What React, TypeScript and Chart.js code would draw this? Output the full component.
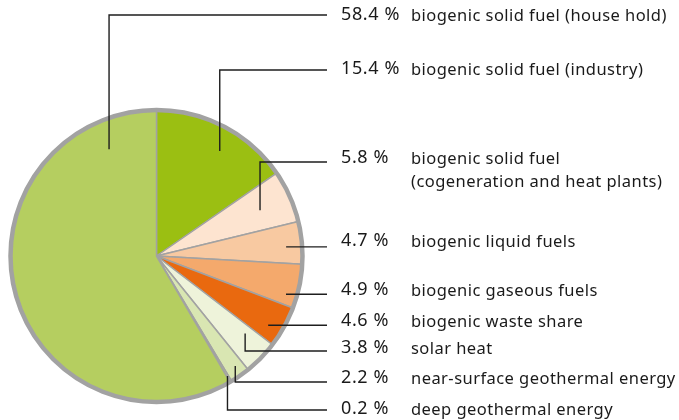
import React, { useEffect, useRef } from "react";
import { Chart, registerables } from "chart.js";

Chart.register(...registerables);

// Data (clockwise from 12 o'clock)
const categories: string[][] = [
  ["biogenic solid fuel (industry)"],
  ["biogenic solid fuel", "(cogeneration and heat plants)"],
  ["biogenic liquid fuels"],
  ["biogenic gaseous fuels"],
  ["biogenic waste share"],
  ["solar heat"],
  ["near-surface geothermal energy"],
  ["deep geothermal energy"],
  ["biogenic solid fuel (house hold)"],
];
const shares: number[] = [15.4, 5.8, 4.7, 4.9, 4.6, 3.8, 2.2, 0.2, 58.4];
const colors: string[] = [
  "#9bbf12",
  "#fde4d0",
  "#f8c9a1",
  "#f4a96c",
  "#e9690f",
  "#eef3da",
  "#d9e6b2",
  "#cadd96",
  "#b5ce60",
];

// Layout of leader lines / labels (positions only)
// t: fraction along slice angle, r: fraction of radius, line: y of horizontal line (null = straight from anchor), text: y of label
const leaderLayout = [
  { t: 0.56, r: 0.84, line: 70, text: 69 },
  { t: 0.515, r: 0.775, line: 162, text: 158 },
  { t: 0.57, r: 0.89, line: null, text: 241 },
  { t: 0.75, r: 0.925, line: null, text: 290 },
  { t: 0.66, r: 0.9, line: null, text: 321 },
  { t: 0.27, r: 0.806, line: 351, text: 348 },
  { t: 0.41, r: 0.926, line: 382, text: 378 },
  { t: 0.5, r: 0.955, line: 410, text: 409 },
  { t: 0.886, r: 0.8, line: 15, text: 15 },
];

const LINE_END_X = 327;
const PCT_X = 341;
const DESC_X = 411;
const FONT = "'Noto Sans', 'Open Sans', sans-serif";

const leaderPlugin = {
  id: "leaders",
  afterDatasetsDraw(chart: any) {
    const meta = chart.getDatasetMeta(0);
    const ctx: any = chart.ctx;
    ctx.save();
    // thick outer ring
    const a0 = meta.data[0];
    if (a0) {
      const p = a0.getProps(["x", "y", "outerRadius"], true);
      ctx.beginPath();
      ctx.arc(p.x, p.y, p.outerRadius, 0, Math.PI * 2);
      ctx.lineWidth = 4.5;
      ctx.strokeStyle = "#a2a2a2";
      ctx.stroke();
    }
    meta.data.forEach((arc: any, i: number) => {
      const L = leaderLayout[i];
      const p = arc.getProps(["x", "y", "startAngle", "endAngle", "outerRadius"], true);
      const ang = p.startAngle + (p.endAngle - p.startAngle) * L.t;
      const ax = p.x + Math.cos(ang) * p.outerRadius * L.r;
      const ay = p.y + Math.sin(ang) * p.outerRadius * L.r;
      const rowY = L.line == null ? ay : L.line;
      ctx.beginPath();
      ctx.lineWidth = 1.4;
      ctx.strokeStyle = "#1e1e1e";
      ctx.moveTo(ax, ay);
      ctx.lineTo(ax, rowY);
      ctx.lineTo(LINE_END_X, rowY);
      ctx.stroke();

      ctx.fillStyle = "#1a1a1a";
      ctx.textBaseline = "middle";
      ctx.textAlign = "left";
      ctx.letterSpacing = "0.6px";
      ctx.font = `18px ${FONT}`;
      ctx.fillText(`${shares[i].toFixed(1)} %`, PCT_X, L.text);
      ctx.letterSpacing = "0.45px";
      ctx.font = `16.5px ${FONT}`;
      categories[i].forEach((line, k) => {
        ctx.fillText(line, DESC_X, L.text + 1 + k * 23);
      });
      ctx.letterSpacing = "0px";
    });
    ctx.restore();
  },
};

export default function App() {
  const ref = useRef<HTMLCanvasElement>(null);
  useEffect(() => {
    document.body.style.margin = "0";
    const chart = new Chart(ref.current as HTMLCanvasElement, {
      type: "pie",
      data: {
        labels: categories.map((c) => c.join(" ")),
        datasets: [
          {
            data: shares,
            backgroundColor: colors,
            borderColor: "#a2a2a2",
            borderWidth: 1.5,
          },
        ],
      },
      options: {
        animation: false,
        responsive: false,
        radius: 146,
        layout: { padding: { left: 0, right: 366, top: 100, bottom: 8 } },
        plugins: { legend: { display: false }, tooltip: { enabled: false } },
      },
      plugins: [leaderPlugin],
    });
    return () => chart.destroy();
  }, []);
  return (
    <div style={{ width: 679, height: 420, background: "#fff" }}>
      <canvas ref={ref} width={679} height={420} style={{ display: "block" }} />
    </div>
  );
}
